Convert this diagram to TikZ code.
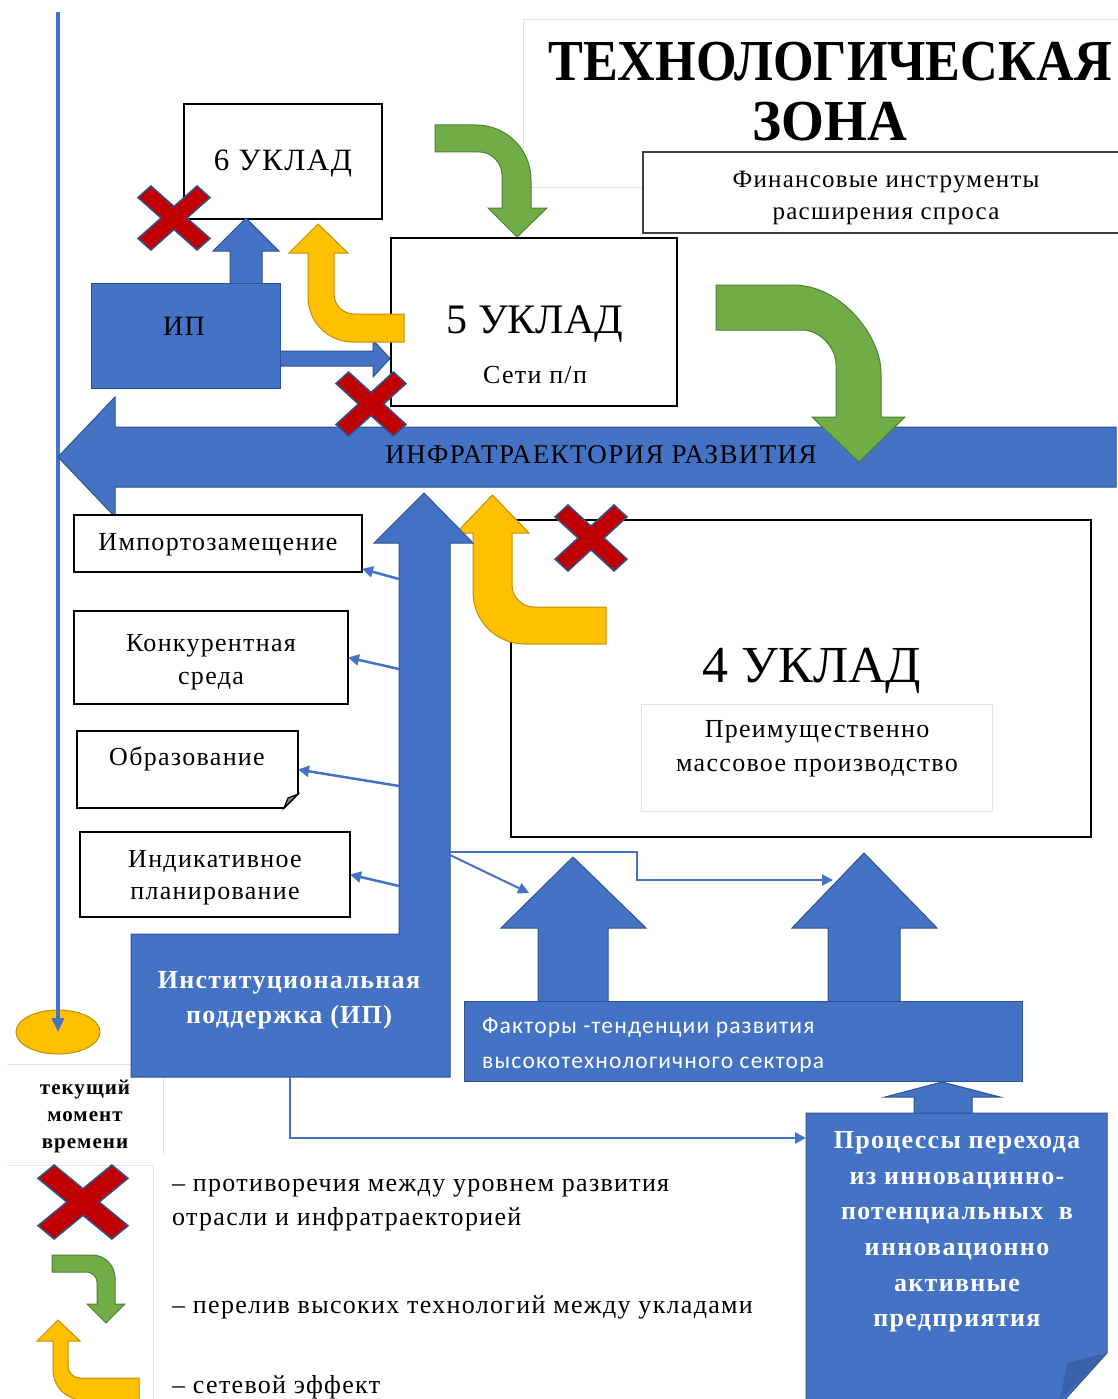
\documentclass[tikz,border=0pt]{standalone}
\usepackage{fontspec}
\usepackage{graphicx}
\setmainfont{Liberation Serif}[LetterSpace=5]
\newfontfamily\plainserif{Liberation Serif}
\newfontfamily\sansf{Carlito}[LetterSpace=5]
\usetikzlibrary{arrows.meta,shapes.geometric}
\definecolor{myblue}{HTML}{4472C4}
\definecolor{blueedge}{HTML}{2F528F}
\definecolor{myyellow}{HTML}{FFC000}
\definecolor{yellowedge}{HTML}{BF9000}
\definecolor{mygreen}{HTML}{70AD47}
\definecolor{greenedge}{HTML}{507E32}
\definecolor{myred}{HTML}{C00000}
\definecolor{faint}{HTML}{E4E4E4}
\definecolor{folddark}{HTML}{3A62AA}
\newcommand{\fs}[2]{\fontsize{#1}{#2}\selectfont}
\newcommand{\redX}[4]{%
\begin{scope}[shift={(#1,#2)}, x=#3pt, y=-#4pt]
\draw[redx] (0,0.36) -- (0.64,1) -- (1,0.64) -- (0.36,0) -- (1,-0.64) -- (0.64,-1) -- (0,-0.36) -- (-0.64,-1) -- (-1,-0.64) -- (-0.36,0) -- (-1,0.64) -- (-0.64,1) -- cycle;
\end{scope}}
\tikzset{
 bluefill/.style={fill=myblue, draw=blueedge, line width=1pt},
 yellowfill/.style={fill=myyellow, draw=yellowedge, line width=1pt},
 greenfill/.style={fill=mygreen, draw=greenedge, line width=1pt},
 redx/.style={fill=myred, draw=blueedge, line width=1.5pt},
 box/.style={draw=black, line width=1.6pt, fill=white, inner sep=0pt, outer sep=0pt},
 faintline/.style={draw=faint, line width=1pt},
 thinarrow/.style={draw=myblue, line width=2.5pt, -{Triangle[length=11pt,width=11pt]}},
 txt/.style={inner sep=0pt, align=center, text=black},
 wtxt/.style={inner sep=0pt, align=center, text=white, font=\bfseries\fs{26}{35}},
}
\begin{document}
\begin{tikzpicture}[x=1pt,y=-1pt]
\useasboundingbox (0,0) rectangle (1118,1399);
\fill[white] (0,0) rectangle (1118,1399);

% faint frames
\draw[faintline] (523,20) rectangle (1130,188);
\draw[faintline] (7,1064) -- (163,1064) -- (163,1155);
\draw[faintline] (7,1165) -- (153,1165) -- (153,1405);

% title
\node[txt, font=\plainserif\bfseries\fs{58}{62}] (t1) at (830,62) {\scalebox{0.9}[1]{ТЕХНОЛОГИЧЕСКАЯ}};
\node[txt, font=\plainserif\bfseries\fs{58}{62}] (t2) at (830,122) {\scalebox{0.95}[1]{ЗОНА}};

% financial box
\node[box, draw=black!75, minimum width=490pt, minimum height=81pt] (fin) at (888,192.5) {};
\node[txt, font=\fs{25}{32}] (fintxt) at (886,198) {Финансовые инструменты\\расширения спроса};

% timeline
\coordinate (tltop) at (58,12);
\node[ellipse, fill=myyellow, draw=yellowedge, line width=1pt, minimum width=84pt, minimum height=44pt] (now) at (58,1032) {};
\draw[myblue, line width=3.5pt, -{Triangle[length=14pt,width=12pt]}] (tltop) -- (now.center);
\node[txt, font=\bfseries\fs{21}{27}] (nowtxt) at (85,1116) {текущий\\момент\\времени};

% 6 uklad
\node[box, minimum width=198pt, minimum height=115pt] (u6) at (283,161.5) {};
\node[txt, font=\fs{31}{36}] (u6txt) at (283,164) {6 УКЛАД};

% blue arrow IP -> 6
\draw[bluefill] (230,284) -- (230,251) -- (213,251) -- (246,218) -- (279,251) -- (262,251) -- (262,284) -- cycle;
% blue arrow IP -> 5
\draw[bluefill] (279,351) -- (373,351) -- (373,340) -- (390,358.5) -- (373,377) -- (373,366) -- (279,366) -- cycle;

% IP box
\node[fill=myblue, draw=blueedge, line width=1pt, minimum width=189pt, minimum height=105pt, inner sep=0pt] (ip) at (185.5,335.5) {};
\node[txt, font=\fs{28}{32}] (iptxt) at (184,326) {ИП};

% 5 uklad
\node[box, minimum width=286pt, minimum height=168pt] (u5) at (534,322) {};
\node[txt, font=\plainserif\fs{42}{46}] (u5txt) at (535,324) {5 УКЛАД};
\node[txt, font=\fs{26}{30}] (u5sub) at (535,375) {Сети п/п};

% yellow arrow 5 -> 6
\draw[yellowfill] (404,314) -- (354,314) .. controls (343,314) and (334,305) .. (334,294) -- (334,253) -- (348,253) -- (318,224) -- (289,253) -- (308,253) -- (308,297) .. controls (308,322) and (328,342) .. (353,342) -- (404,342) -- cycle;

% green arrow top
\draw[greenfill] (435,125) -- (476,125) .. controls (506.4,125) and (531,149.4) .. (531,180) -- (531,208) -- (547,208) -- (517,237) -- (488,208) -- (502,208) -- (502,174) .. controls (502,164) and (492,152) .. (480,152) -- (435,152) -- cycle;

% infratrajectory arrow
\draw[bluefill] (1116,427) -- (115,427) -- (115,397) -- (58,457) -- (115,517) -- (115,487) -- (1116,487) -- cycle;
\node[txt, font=\fs{27}{30}] (inftxt) at (601,455) {ИНФРАТРАЕКТОРИЯ РАЗВИТИЯ};

% green arrow big
\draw[greenfill] (716,285) -- (793,285) .. controls (841.6,285) and (881,336.4) .. (881,373) -- (881,417) -- (905,417) -- (859,462) -- (812,417) -- (836,417) -- (836,364) .. controls (836,349) and (821,330) .. (802,330) -- (716,330) -- cycle;

% red crosses top
\redX{174}{218}{36}{32}
\redX{371}{404}{35}{32}

% 4 uklad
\node[box, minimum width=580pt, minimum height=317pt] (u4) at (801,678.5) {};
\node[txt, font=\plainserif\fs{52}{58}] (u4txt) at (812,671) {4 УКЛАД};
\draw[faintline] (641,704) rectangle (992,811);
\node[txt, font=\fs{26}{34}] (u4sub) at (817,749) {Преимущественно\\массовое производство};

% yellow arrow 4 -> infra
\draw[yellowfill] (606,607) -- (534,607) .. controls (522,607) and (512,597) .. (512,585) -- (512,533) -- (529,533) -- (492.5,495) -- (456,533) -- (473,533) -- (473,592) .. controls (473,621) and (496,644) .. (525,644) -- (606,644) -- cycle;
\redX{591}{538}{36}{33}

% left boxes
\node[box, minimum width=288pt, minimum height=57pt] (imp) at (218,543.5) {};
\node[txt, font=\fs{26}{30}] (imptxt) at (218,545) {Импортозамещение};
\node[box, minimum width=274pt, minimum height=93pt] (konk) at (211,657.5) {};
\node[txt, font=\fs{26}{33}] (konktxt) at (211,662) {Конкурентная\\среда};
\node[minimum width=221pt, minimum height=77pt, inner sep=0pt, outer sep=0pt] (obr) at (187.5,769.5) {};
\draw[draw=black, line width=1.6pt, fill=white] (obr.north west) -- (obr.north east) -- ([yshift=14pt]obr.south east) -- ([xshift=-14pt]obr.south east) -- (obr.south west) -- cycle;
\draw[draw=black, line width=1.2pt, fill=black!45] ([yshift=14pt]obr.south east) -- ([xshift=-10pt,yshift=10pt]obr.south east) -- ([xshift=-14pt]obr.south east) -- cycle;
\node[txt, font=\fs{26}{30}] (obrtxt) at (187,759) {Образование};
\node[box, minimum width=270pt, minimum height=85pt] (ind) at (215,874.5) {};
\node[txt, font=\fs{26}{32}] (indtxt) at (215,878) {Индикативное\\планирование};

% central IP shape
\draw[bluefill] (131,934) -- (399,934) -- (399,543) -- (374,543) -- (424,493) -- (473,543) -- (450,543) -- (450,1077) -- (131,1077) -- cycle;
\node[wtxt] (iptext) at (289,1000) {Институциональная\\поддержка (ИП)};

% thin arrows to left boxes
\coordinate (s1) at (399,579);
\coordinate (s2) at (399,669);
\coordinate (s3) at (399,786);
\coordinate (s4) at (399,886);
\draw[thinarrow] (s1) -- (imp.-10);
\draw[thinarrow] (s2) -- (konk.east);
\draw[thinarrow] (s3) -- (obr.east);
\draw[thinarrow] (s4) -- (ind.east);

% factor arrows
\draw[bluefill] (538,1002) -- (538,928) -- (501,928) -- (573,857) -- (646,928) -- (608,928) -- (608,1002) -- cycle;
\draw[bluefill] (828,1002) -- (828,928) -- (792,928) -- (864,853) -- (937,928) -- (900,928) -- (900,1002) -- cycle;
\coordinate (fa) at (529,893);
\coordinate (fb) at (833,880);
\coordinate (s5) at (450,852);
\coordinate (s6) at (450,855);
\draw[thinarrow, line width=2pt] (s5) -- (637,852) -- (637,880) -- (fb);
\draw[thinarrow, line width=2pt] (s6) -- (fa);

% factors box
\node[fill=myblue, draw=blueedge, line width=1pt, minimum width=558pt, minimum height=80pt, inner sep=0pt] (fact) at (743,1041) {};
\node[inner sep=0pt, anchor=west, align=left, text=white, font=\sansf\fs{23.5}{35}] (facttxt) at (482,1045) {Факторы -тенденции развития\\высокотехнологичного сектора};

% processes box
\draw[bluefill] (914,1114) -- (914,1097) -- (885,1097) -- (942,1082) -- (1000,1097) -- (972,1097) -- (972,1114) -- cycle;
\draw[bluefill] (806,1113) -- (1107,1113) -- (1107,1353) -- (1060,1405) -- (806,1405) -- cycle;
\fill[folddark] (1107,1353) -- (1067,1363) -- (1060,1400) -- cycle;
\node[wtxt, font=\bfseries\fs{26}{35.6}] (proctxt) at (957,1232) {Процессы перехода\\из инновацинно-\\потенциальных\ \ в\\инновационно\\активные\\предприятия};
\coordinate (ipb) at (290,1077);
\coordinate (procw) at (806,1138);
\draw[thinarrow, line width=2.5pt] (ipb) -- (290,1138) -- (procw);

% legend
\redX{83}{1202}{45}{37}
\draw[greenfill] (52,1255) -- (92,1255) .. controls (104.7,1255) and (115,1265.3) .. (115,1278) -- (115,1304) -- (125,1304) -- (106,1323) -- (87,1304) -- (97,1304) -- (97,1282) .. controls (97,1276.5) and (91.5,1272) .. (87,1272) -- (52,1272) -- cycle;
\draw[yellowfill] (139,1378) -- (80,1378) .. controls (73.4,1378) and (68,1372.6) .. (68,1366) -- (68,1341) -- (80,1341) -- (58,1320) -- (37,1341) -- (53,1341) -- (53,1370) .. controls (53,1386.6) and (66.4,1400) .. (83,1400) -- (139,1400) -- cycle;
\node[inner sep=0pt, anchor=west, align=left, font=\fs{26}{34}] (leg1) at (172,1205) {– противоречия между уровнем развития\\отрасли и инфратраекторией};
\node[inner sep=0pt, anchor=west, font=\fs{26}{30}] (leg2) at (172,1307) {– перелив высоких технологий между укладами};
\node[inner sep=0pt, anchor=west, font=\fs{26}{30}] (leg3) at (172,1387) {– сетевой эффект};
\end{tikzpicture}
\end{document}
